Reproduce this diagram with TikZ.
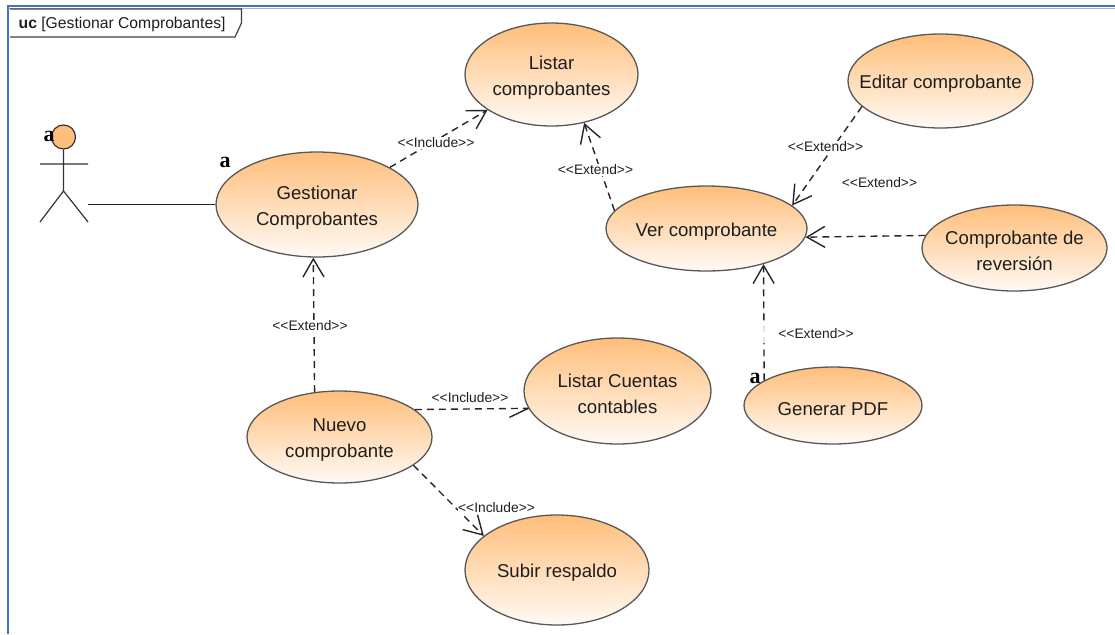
\documentclass[tikz,border=0pt]{standalone}
\usepackage{fontspec}
\setmainfont{Liberation Sans}
\newfontfamily\markfont{Liberation Serif}
\usepackage{xcolor}
\usepackage{tikz}
\usetikzlibrary{arrows.meta,shapes.geometric}

\definecolor{casetop}{RGB}{255,190,122}
\definecolor{casebottom}{RGB}{255,250,245}
\definecolor{caseline}{RGB}{88,88,88}
\definecolor{framblue}{RGB}{72,112,190}
\definecolor{inktext}{RGB}{30,30,30}

\newcommand{\casedn}{\rule{0pt}{19.5pt}}

\tikzset{
  usecase/.style={ellipse,draw=caseline,line width=1.3pt,top color=casetop,bottom color=casebottom,
    inner xsep=-40pt,inner ysep=-20pt,align=center,text=inktext,font=\fontsize{18.6}{26}\selectfont},
  steretype/.style={fill=white,inner sep=0.5pt,text=inktext,font=\fontsize{13.8}{15}\selectfont},
  markA/.style={inner sep=0pt,text=black,font=\markfont\bfseries\fontsize{22}{22}\selectfont}
}

\begin{document}
\begin{tikzpicture}[x=1pt,y=-1pt]
            \useasboundingbox (0,0) rectangle (1115,634);

            % frame
            \draw [gray!60,line width=1pt] (9,8.5) -- (1115,8.5);
            \draw [framblue,line width=2pt] (1115,6) -- (8,6) -- (8,634);
            \draw [black!75,line width=1.2pt] (10,9) -- (241.5,9) -- (241.5,23) -- (235,37) -- (10,37);
            \node (title) [anchor=west,inner sep=0pt,text=inktext,font=\fontsize{15.7}{17}\selectfont] at (18.5,24)
                {\textbf{uc} [Gestionar Comprobantes]};

            % actor
            \node (head) [circle,draw=black!80,line width=1.2pt,fill=casetop,minimum size=24pt,inner sep=0pt] at (63.5,137) {};
            \coordinate (hip) at (63.5,191);
            \coordinate (armL) at (40,164);
            \coordinate (armR) at (88,164);
            \coordinate (footL) at (40,222);
            \coordinate (footR) at (88,222);
            \coordinate (act) at (88,204.5);
            \draw [black!80,line width=1.2pt] (head) -- (hip) (armL) -- (armR) (footL) -- (hip) -- (footR);

            \begin{scope}[every node/.style={usecase}]
                \node (gest) [minimum width=202pt,minimum height=105pt] at (317,204.5) {\casedn Gestionar\\Comprobantes};
                \node (listar) [minimum width=173pt,minimum height=103pt] at (551.5,74.5) {\casedn Listar\\comprobantes};
                \node (ver) [minimum width=201pt,minimum height=85pt] at (706.5,228.5) {\casedn Ver comprobante};
                \node (editar) [minimum width=185pt,minimum height=94pt] at (940.5,81) {\casedn Editar comprobante};
                \node (rever) [minimum width=185pt,minimum height=86pt] at (1014.5,248) {\casedn Comprobante de\\reversión};
                \node (pdf) [minimum width=178pt,minimum height=77pt] at (833,405.5) {\casedn Generar PDF};
                \node (nuevo) [minimum width=185pt,minimum height=92pt] at (339.5,437) {\casedn Nuevo\\comprobante};
                \node (cuentas) [minimum width=187pt,minimum height=106pt] at (617.5,391) {\casedn Listar Cuentas\\contables};
                \node (subir) [minimum width=184pt,minimum height=110pt] at (557,570) {\casedn Subir respaldo};
            \end{scope}

            \begin{scope}[>={Straight Barb[length=18pt,width=21pt]},
                          every edge/.style={draw=black!85,line width=1.4pt,dash pattern=on 7pt off 5pt}]
                \draw [black!85,line width=1.4pt] (act) -- (gest.west);
                \path [->] (gest.27) edge (listar.209);
                \path [->] (ver.169) edge (listar.304.6);
                \path [->] (editar.198.5) edge (ver.15.4);
                \path [->] (rever.172.3) edge (ver.355.7);
                \path [->] (pdf.160) edge (ver.328.6);
                \path [->] (nuevo.119) edge (gest.266.7);
                \path [-] (nuevo.20.3) edge (cuentas.191.6);
                \path [->] (nuevo.339.7) edge (subir.155.1);
                \draw [black!85,line width=1.4pt] (cuentas.191.6) -- ++(-19,9);
            \end{scope}

            % the faded stretch under the PDF link
            \fill [white,opacity=.85] (758,322) rectangle (768,343);

            \begin{scope}[every node/.style={steretype}]
                \node (inc1) at (436,143) {<{}<Include>{}>};
                \node (ext1) at (595.5,170) {<{}<Extend>{}>};
                \node (ext2) at (825.5,147) {<{}<Extend>{}>};
                \node (ext3) at (879.5,183) {<{}<Extend>{}>};
                \node (ext4) at (816,334) {<{}<Extend>{}>};
                \node (ext5) at (310,326) {<{}<Extend>{}>};
                \node (inc2) at (470,398) {<{}<Include>{}>};
                \node (inc3) at (496.5,508) {<{}<Include>{}>};
            \end{scope}

            \node (a1) [markA] at (49,136) {a};
            \node (a2) [markA] at (225,162) {a};
            \node (a3) [markA] at (755,378) {a};
\end{tikzpicture}
\end{document}
